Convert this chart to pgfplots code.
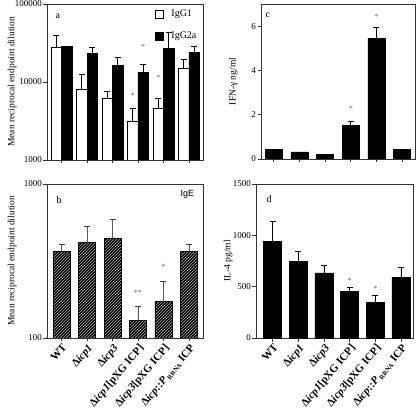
\documentclass[border=0pt]{standalone}
\usepackage{fontspec}
\setmainfont{Liberation Serif}
\newfontfamily\sansf{Liberation Sans}
\usepackage{pgfplots}
\usepackage{pgfplotstable}
\pgfplotsset{compat=1.18}
\usetikzlibrary{patterns}

\pgfplotstableread{
x y e
0 27900 11900
1 8000 4500
2 6100 1400
3 3100 1450
4 4550 1550
5 14900 4600
}\aone
\pgfplotstableread{
x y e
0 28300 0
1 23300 4600
2 16300 4400
3 13300 3500
4 27000 16600
5 24000 4700
}\atwo
\pgfplotstableread{
x y e
0 366 38
1 416 117
2 444 146
3 130 30
4 172 62
5 366 38
}\bdata
\pgfplotstableread{
x y e
0 0.42 0
1 0.32 0
2 0.22 0
3 1.50 0.22
4 5.45 0.50
5 0.42 0
}\cdata
\pgfplotstableread{
x y e
0 938 201
1 744 97
2 634 75
3 450 42
4 350 61
5 592 94
}\ddata

\tikzset{starnode/.style={font=\fontsize{8}{8}\selectfont, text=black!60}}

\pgfplotsset{
  panel/.style={
    scale only axis, anchor=south west,
    tick pos=left, tick align=outside, major tick length=3.5pt,
    axis line style={black!80, line width=0.8pt},
    every tick/.style={black!80, line width=0.7pt},
    xtick={0,1,2,3,4,5}, xticklabels={},
    ticklabel style={font=\fontsize{9}{9}\selectfont, inner sep=1.5pt},
    /pgf/number format/assume math mode=true,
    ylabel style={font=\fontsize{9.5}{10}\selectfont},
    error bars/y dir=plus, error bars/y explicit,
    error bars/error mark options={rotate=90, mark size=3pt, line width=0.8pt},
    error bars/error bar style={line width=0.8pt},
  },
  namelabels/.style={
    xticklabels={{WT},{Δ\textit{icp1}},{Δ\textit{icp3}},{Δ\textit{icp1}[pXG ICP]},{Δ\textit{icp3}[pXG ICP]},{Δ\textit{icp}::\textit{P}\,\raisebox{-0.3ex}{\fontsize{6.5}{6.5}\selectfont RRNA} ICP}},
    xticklabel style={rotate=50, anchor=north east, font=\fontsize{11}{11}\selectfont\bfseries, inner sep=1pt},
  },
}

\begin{document}
\begin{tikzpicture}
\useasboundingbox (0,0) rectangle (416pt,416pt);

% Panel a
\begin{axis}[panel, at={(47pt,256pt)}, width=156pt, height=156pt,
  ymode=log, log origin y=infty, ymin=1000, ymax=100000,
  ytick={1000,10000,100000}, yticklabels={1000,10000,100000}, yminorticks=false,
  xmin=-0.57, xmax=5.55,
  ybar=0pt, bar width=10.5pt,
  ylabel={Mean reciprocal endpoint dilution},
  ylabel style={at={(axis description cs:-0.224,0.5)}, anchor=center},
  legend style={at={(0.69,0.975)}, anchor=north west, draw=none, fill=none,
    font=\fontsize{10}{10}\selectfont, row sep=10pt, inner sep=0pt,
    /tikz/every odd column/.style={column sep=6pt}},
  legend cell align=left,
  legend image code/.code={\draw[#1, draw=black, line width=0.6pt] (0pt,-4pt) rectangle (8pt,4pt);},
]
\addplot[fill=white, draw=black, line width=0.8pt] table[x=x,y=y,y error=e]{\aone};
\addplot[fill=black, draw=black, line width=0.8pt] table[x=x,y=y,y error=e]{\atwo};
\legend{IgG1, IgG2a}
\node[font=\fontsize{10}{10}\selectfont] at (axis description cs:0.07,0.92) {a};
\node[starnode] at (axis cs:2.8,6700) {*};
\node[starnode] at (axis cs:3.2,27900) {*};
\node[starnode] at (axis cs:3.8,11400) {*};
\end{axis}

% Panel b
\begin{axis}[panel, namelabels, at={(47pt,78pt)}, width=156pt, height=154pt,
  ymode=log, log origin y=infty, ymin=100, ymax=1000,
  ytick={100,1000}, yticklabels={100,1000}, yminorticks=false,
  xmin=-0.57, xmax=5.55,
  ybar, bar width=17pt,
  ylabel={Mean reciprocal endpoint dilution},
  ylabel style={at={(axis description cs:-0.224,0.5)}, anchor=center},
  error bars/error bar style={line width=0.8pt, black!65},
  error bars/error mark options={rotate=90, mark size=3pt, line width=0.8pt, black!75},
]
\addplot[fill=black, draw=black, line width=0.8pt,
  postaction={pattern=north east lines, pattern color=black!30}]
  table[x=x,y=y,y error=e]{\bdata};
\node[font=\fontsize{10}{10}\selectfont] at (axis description cs:0.077,0.896) {b};
\node[font=\fontsize{9}{9}\selectfont\sansf] at (axis description cs:0.9,0.93) {IgE};
\node[starnode] at (axis cs:3,197) {**};
\node[starnode] at (axis cs:4,290) {*};
\end{axis}

% Panel c
\begin{axis}[panel, at={(261pt,257pt)}, width=154pt, height=155pt,
  ymin=0, ymax=7, ytick={0,2,4,6}, yticklabels={0,2,4,6},
  xmin=-0.5, xmax=5.5,
  ybar, bar width=17pt,
  ylabel={IFN-γ ng/ml},
  ylabel style={at={(axis description cs:-0.18,0.5)}, anchor=center},
]
\addplot[fill=black, draw=black, line width=0.8pt] table[x=x,y=y,y error=e]{\cdata};
\node[font=\fontsize{10}{10}\selectfont] at (axis description cs:0.045,0.93) {c};
\node[starnode] at (axis cs:3,2.25) {*};
\node[starnode] at (axis cs:4,6.44) {*};
\end{axis}

% Panel d
\begin{axis}[panel, namelabels, at={(256pt,78pt)}, width=157pt, height=154pt,
  ymin=0, ymax=1500, ytick={0,500,1000,1500}, yticklabels={0,500,1000,1500},
  xmin=-0.65, xmax=5.47,
  ybar, bar width=18pt,
  ylabel={IL-4 pg/ml},
  ylabel style={at={(axis description cs:-0.178,0.5)}, anchor=center},
]
\addplot[fill=black, draw=black, line width=0.8pt] table[x=x,y=y,y error=e]{\ddata};
\node[font=\fontsize{10}{10}\selectfont] at (axis description cs:0.083,0.90) {d};
\node[starnode] at (axis cs:3,561) {*};
\node[starnode] at (axis cs:4,474) {*};
\end{axis}
\end{tikzpicture}
\end{document}
